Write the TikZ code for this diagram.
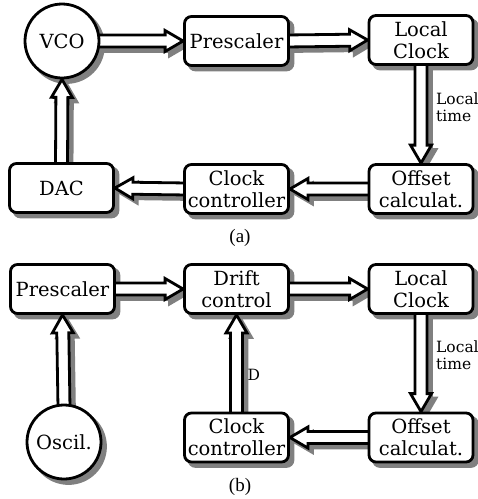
\documentclass[tikz,border=0pt]{standalone}
\usepackage{fontspec}
\setmainfont{DejaVu Serif}
\newfontfamily\capfont{Liberation Serif}
\usetikzlibrary{calc}
\pgfdeclarelayer{shadowlayer}
\pgfdeclarelayer{arrowlayer}
\pgfsetlayers{shadowlayer,arrowlayer,main}
\definecolor{shadowc}{gray}{0.5}

\tikzset{
  blk/.style={draw, line width=2.8pt, fill=white, rounded corners=7pt,
    minimum width=104pt, minimum height=49pt, inner sep=0pt, align=center,
    font=\fontsize{19.5}{22}\selectfont},
  rnd/.style={draw, circle, line width=2.8pt, fill=white, minimum size=74pt,
    inner sep=0pt, font=\fontsize{19.5}{22}\selectfont},
  arrbody/.style={draw, line width=2.8pt, fill=white, line join=miter},
  arrshadow/.style={draw=shadowc, fill=shadowc, line width=2.8pt, line join=miter},
  lbl/.style={align=left, inner sep=0pt, font=\fontsize{15.5}{17}\selectfont},
  subcap/.style={inner sep=0pt, font=\capfont\fontsize{19}{22}\selectfont}
}

% outline of a hollow block arrow between coordinates #1 and #2, style #3
\newcommand\arrowpoly[3]{%
  \path ($(#2)!18pt!(#1)$) coordinate (fa-b);
  \draw[#3] ($(#1)!6pt!90:(#2)$) -- ($(fa-b)!6pt!-90:(#1)$)
    -- ($(fa-b)!10.5pt!-90:(#1)$) -- (#2) -- ($(fa-b)!10.5pt!90:(#1)$)
    -- ($(fa-b)!6pt!90:(#1)$) -- ($(#1)!6pt!-90:(#2)$);
}
% block arrow with its shadow; #1, #2: end points, #3: start shift into the source
\newcommand\fatarrow[3]{%
  \path ($(#1)+#3$) coordinate (fa-s) (#2) coordinate (fa-e);
  \path ($(fa-s)+(4.5pt,-4.5pt)$) coordinate (fa-ss) ($(fa-e)+(4.5pt,-4.5pt)$) coordinate (fa-se);
  \begin{pgfonlayer}{shadowlayer}\arrowpoly{fa-ss}{fa-se}{arrshadow}\end{pgfonlayer}
  \begin{pgfonlayer}{arrowlayer}\arrowpoly{fa-s}{fa-e}{arrbody}\end{pgfonlayer}
}
% shadow behind a rounded box
\newcommand\boxshadow[1]{%
  \begin{pgfonlayer}{shadowlayer}
  \fill[shadowc, rounded corners=8pt] ($(#1.south west)+(4.5pt,-4.5pt)$) rectangle ($(#1.north east)+(4.5pt,-4.5pt)$);
  \end{pgfonlayer}
}
% shadow behind a circle
\newcommand\roundshadow[1]{%
  \begin{pgfonlayer}{shadowlayer}
  \fill[shadowc] ($(#1.center)+(4.5pt,-4.5pt)$) circle (38.4pt);
  \end{pgfonlayer}
}

\begin{document}
\begin{tikzpicture}[x=1pt,y=-1pt]
\useasboundingbox (0,0) rectangle (478,499);

% ---- (a) PLL-based loop ----
\node[rnd] (vco) at (62,41) {VCO};
\node[blk] (pre) at (236.5,41) {Prescaler};
\node[blk] (lc) at (421,40) {Local\\Clock};
\node[blk] (oc) at (421,189) {Offset\\calculat.};
\node[blk] (cc) at (236.5,189) {Clock\\controller};
\node[blk] (dac) at (61.5,188) {DAC};
\node[subcap] (capa) at (240,238) {(a)};

% ---- (b) drift-controlled loop ----
\node[blk] (pre2) at (62.5,289) {Prescaler};
\node[blk] (dc) at (236.5,289) {Drift\\control};
\node[blk] (lc2) at (421,289) {Local\\Clock};
\node[rnd] (osc) at (64,442) {Oscil.};
\node[blk] (cc2) at (236.5,437.5) {Clock\\controller};
\node[blk] (oc2) at (421,437.5) {Offset\\calculat.};
\node[subcap] (capb) at (240,487) {(b)};

\roundshadow{vco}
\boxshadow{pre}\boxshadow{lc}\boxshadow{oc}\boxshadow{cc}\boxshadow{dac}
\roundshadow{osc}
\boxshadow{pre2}\boxshadow{dc}\boxshadow{lc2}\boxshadow{cc2}\boxshadow{oc2}

\fatarrow{vco.east}{pre.west}{(-4pt,0pt)}
\fatarrow{pre.east}{lc.west}{(-4pt,0pt)}
\fatarrow{lc.south}{oc.north}{(0pt,4pt)}
\fatarrow{oc.west}{cc.east}{(4pt,0pt)}
\fatarrow{cc.west}{dac.east}{(4pt,0pt)}
\fatarrow{dac.north}{vco.south}{(0pt,-4pt)}

\fatarrow{osc.north}{pre2.south}{(0pt,-4pt)}
\fatarrow{pre2.east}{dc.west}{(-4pt,0pt)}
\fatarrow{dc.east}{lc2.west}{(-4pt,0pt)}
\fatarrow{lc2.south}{oc2.north}{(0pt,4pt)}
\fatarrow{oc2.west}{cc2.east}{(4pt,0pt)}
\fatarrow{cc2.north}{dc.south}{(0pt,-4pt)}

\path (lc.south) -- (oc.north) node[lbl, pos=0.42, right=15pt] (lta) {Local\\time};
\path (lc2.south) -- (oc2.north) node[lbl, pos=0.42, right=15pt] (ltb) {Local\\time};
\path (cc2.north) -- (dc.south) node[lbl, pos=0.38, right=11pt] (dl) {D};
\end{tikzpicture}
\end{document}
